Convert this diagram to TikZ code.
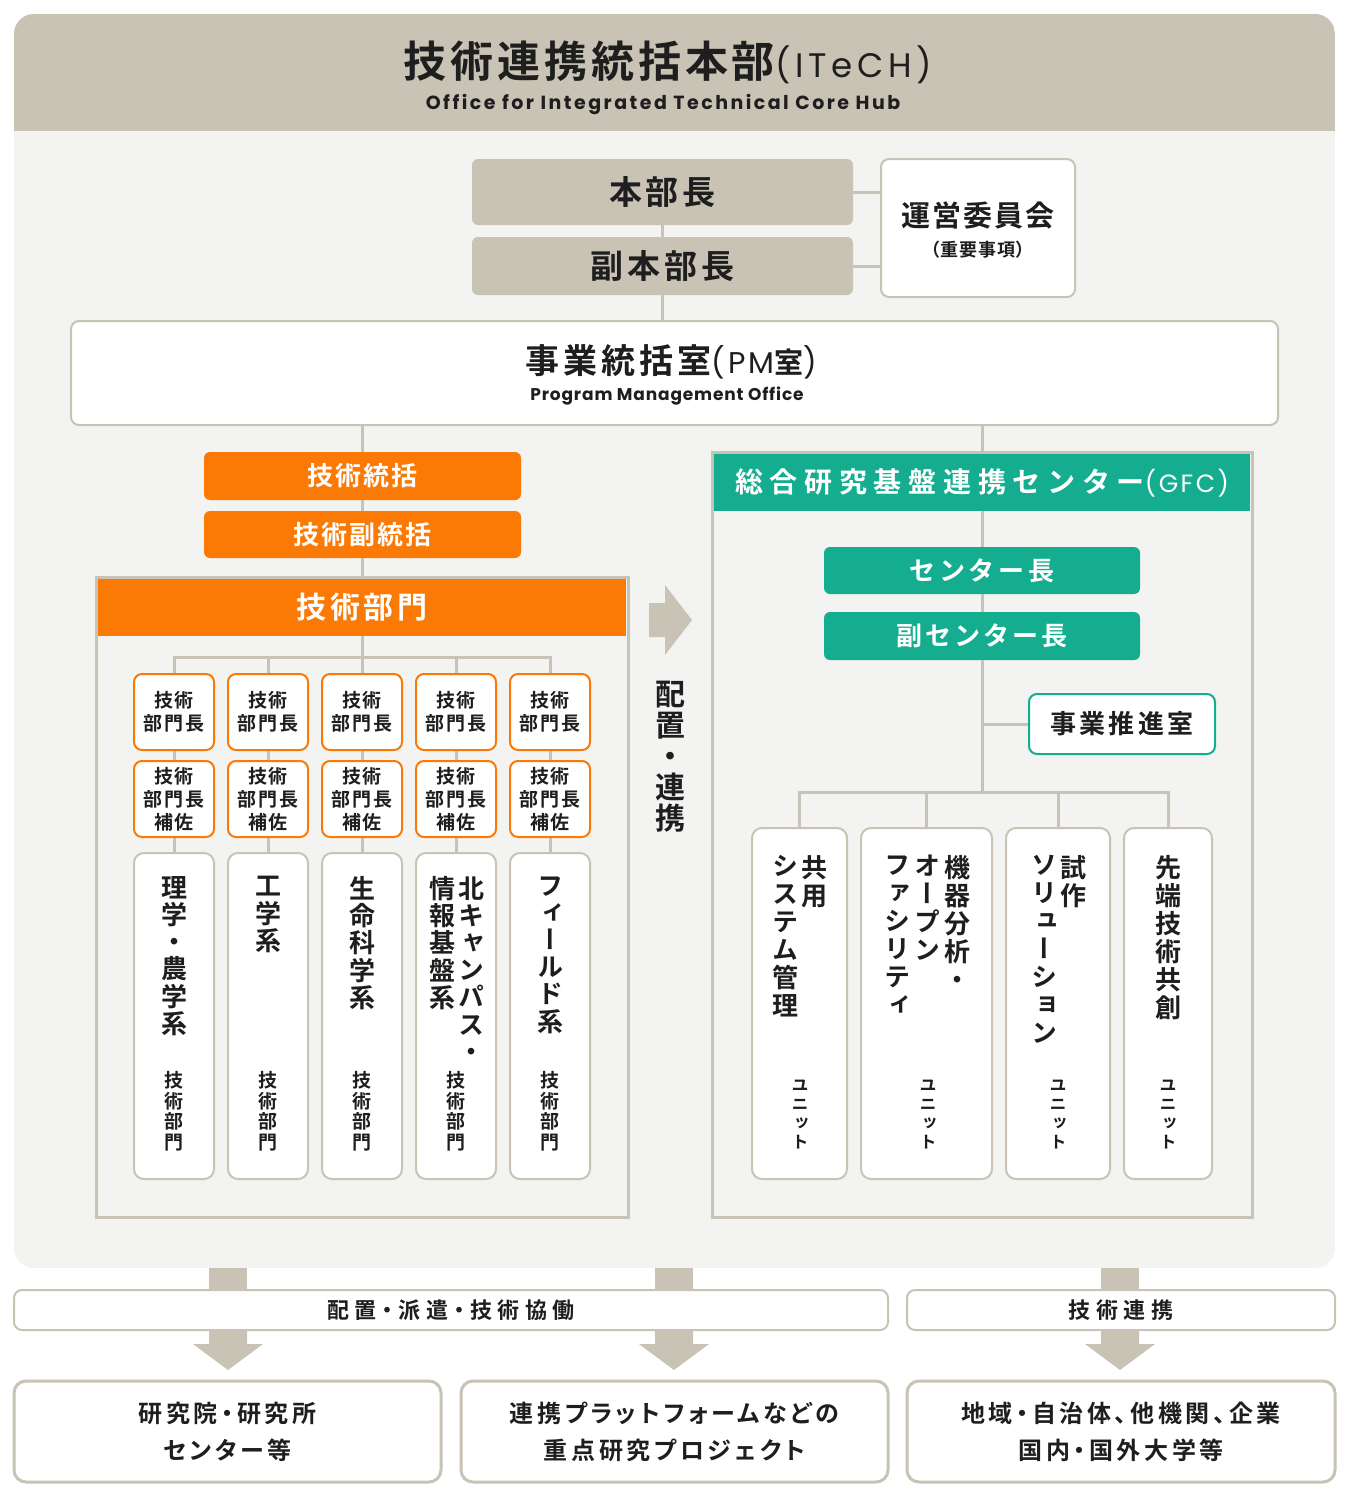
\documentclass[tikz,border=0pt]{standalone}
\usepackage{fontspec}
\setmainfont{Noto Sans CJK JP Bold}
\newfontfamily\jpv{Noto Sans CJK JP Bold}[RawFeature=+vert]
\newfontfamily\pop{Poppins}
\definecolor{paper}{HTML}{F3F3F1}
\definecolor{hqbeige}{HTML}{C8C3B4}
\definecolor{techorange}{HTML}{FA7A05}
\definecolor{gfcteal}{HTML}{15AD8F}
\definecolor{ink}{HTML}{1E1E1E}
\def\ls#1{\addfontfeature{LetterSpace=#1}}
\def\pl{\addfontfeature{RawFeature=+palt}}
\def\blockdown(#1){\fill[hqbeige] (#1-19,1268) rectangle (#1+19,1290);
  \fill[hqbeige] (#1-19,1330) -- (#1+19,1330) -- (#1+19,1344) -- (#1+35,1344) -- (#1,1370) -- (#1-35,1344) -- (#1-19,1344) -- cycle;}

\begin{document}
\begin{tikzpicture}[x=0.5pt,y=-0.5pt,
  px/.style 2 args={minimum width=#1*0.5pt, minimum height=#2*0.5pt},
  link/.style={draw=hqbeige, line width=1.5pt},
  hqbox/.style={fill=hqbeige, rounded corners=3pt, inner sep=0pt, text=ink},
  whitebox/.style={fill=white, draw=hqbeige, line width=1pt, rounded corners=4pt, inner sep=0pt},
  orangebox/.style={fill=techorange, rounded corners=3pt, inner sep=0pt, text=white},
  tealbox/.style={fill=gfcteal, rounded corners=3pt, inner sep=0pt, text=white},
  framebox/.style={draw=hqbeige, line width=1.5pt, inner sep=0pt},
  headbox/.style={fill=white, draw=techorange, line width=1pt, rounded corners=4pt, inner sep=0pt,
    align=center, text=ink, font=\fontsize{9.5}{11.5}\selectfont\ls{8}},
  groupbox/.style={whitebox, rounded corners=5pt},
  vbig/.style={anchor=north, inner sep=0pt, align=center, text=ink, font=\jpv\fontsize{13}{13.6}\selectfont},
  vunit/.style={anchor=north, inner sep=0pt, align=center, text=ink, font=\jpv\fontsize{13}{14}\selectfont},
  vsmall/.style={anchor=north, inner sep=0pt, align=center, text=ink, font=\jpv\fontsize{9.5}{10.25}\selectfont},
  vtiny/.style={anchor=north, inner sep=0pt, align=center, text=ink, font=\jpv\fontsize{8.5}{9.5}\selectfont},
  bandbox/.style={whitebox, text=ink, font=\fontsize{11}{12}\selectfont\pl\ls{25}},
  outbox/.style={fill=white, draw=hqbeige, line width=1.5pt, rounded corners=6pt, inner sep=0pt},
  outtext/.style={align=center, text=ink, inner sep=0pt, font=\fontsize{12}{18.5}\selectfont\pl\ls{15}}]

  %%%%% HEADQUARTERS %%%%%
  \fill[white] (0,0) rectangle (1349,1500);
  \useasboundingbox (0,0) rectangle (1349,1500);
  \begin{scope}
    \clip[rounded corners=10pt] (14,14) rectangle (1335,1268);
    \fill[paper] (14,14) rectangle (1335,1268);
    \fill[hqbeige] (14,14) rectangle (1335,131);
  \end{scope}

  \node[text=ink, inner sep=0pt] (ttl) at (668,62) {{\fontsize{21.5}{22}\selectfont\ls{9}技術連携統括本部}{\pop\fontsize{17}{18}\selectfont\ls{14}(ITeCH)}};
  \node[text=ink, inner sep=0pt] (ttlsub) at (663,104) {\pop\bfseries\fontsize{9.5}{11}\selectfont\ls{13}Office for Integrated Technical Core Hub};

  \node[hqbox, px={381}{66}, font=\fontsize{16.5}{18}\selectfont\ls{12}] (hq) at (662.5,192) {本部長};
  \node[hqbox, px={381}{58}, font=\fontsize{16.5}{18}\selectfont\ls{12}] (vhq) at (662.5,266) {副本部長};
  \node[whitebox, px={194}{138}] (cmt) at (978,228) {};
  \node[text=ink, inner sep=0pt, font=\fontsize{14.5}{16}\selectfont\ls{7}] (cmtname) at (978,215) {運営委員会};
  \node[text=ink, inner sep=0pt, font=\fontsize{9}{10}\selectfont\ls{4}] (cmtnote) at (978,250) {（重要事項）};

  \draw[link] (hq.east) -- (hq.east -| cmt.west);
  \draw[link] (vhq.east) -- (vhq.east -| cmt.west);
  \draw[link] (hq.south) -- (vhq.north);

  \node[whitebox, px={1207}{104}] (pm) at (674.5,373) {};
  \node[text=ink, inner sep=0pt] (pmname) at (671,362) {{\fontsize{17}{18}\selectfont\ls{12}事業統括室}{\pop\fontsize{15}{16}\selectfont\ls{10}(PM}{\fontsize{14.5}{16}\selectfont 室}{\pop\fontsize{15}{16}\selectfont)}};
  \node[text=ink, inner sep=0pt] (pmsub) at (667,396) {\pop\bfseries\fontsize{8.5}{10}\selectfont\ls{5}Program Management Office};
  \draw[link] (vhq.south) -- (vhq.south |- pm.north);

  %%%%% TECHNICAL DIVISION %%%%%
  \node[orangebox, px={317}{48}, font=\fontsize{13}{14}\selectfont\ls{8}] (ts) at (362.5,476) {技術統括};
  \node[orangebox, px={317}{47}, font=\fontsize{13}{14}\selectfont\ls{8}] (tds) at (362.5,534.5) {技術副統括};
  \node[framebox, px={532}{640}] (tdiv) at (362,897) {};
  \node[fill=techorange, inner sep=0pt, px={528}{57}, text=white, font=\fontsize{15}{16}\selectfont\ls{12}] (tdivh) at (362,607.5) {技術部門};

  \draw[link] (ts.north |- pm.south) -- (ts.north);
  \draw[link] (ts.south) -- (tds.north);
  \draw[link] (tds.south) -- (tds.south |- tdiv.north);

  \coordinate (tjoin) at (362,657);
  \foreach \i/\cx in {1/174,2/268,3/362,4/456,5/550} {
    \node[headbox, px={80}{76}] (h\i) at (\cx,712) {技術\\部門長};
    \node[headbox, px={80}{76}] (a\i) at (\cx,799) {技術\\部門長\\補佐};
    \node[groupbox, px={80}{326}] (g\i) at (\cx,1016) {};
    \node[vsmall] (gt\i) at (\cx,1071) {技\\術\\部\\門};
    \draw[link] (h\i.south) -- (a\i.north);
    \draw[link] (a\i.south) -- (g\i.north);
  }
  \draw[link] (tdivh.south) -- (tjoin);
  \draw[link] (h1.north) |- (tjoin) -| (h5.north);
  \foreach \i in {2,3,4}
    \draw[link] (h\i.north) -- (h\i.north |- tjoin);

  \node[vbig] (g1n) at (174,876) {理\\学\\・\\農\\学\\系};
  \node[vbig] (g2n) at (268,876) {工\\学\\系};
  \node[vbig] (g3n) at (362,876) {生\\命\\科\\学\\系};
  \node[vbig] (g4n) at (471,876) {北\\キ\\ャ\\ン\\パ\\ス\\・};
  \node[vbig] (g4m) at (442,876) {情\\報\\基\\盤\\系};
  \node[vbig] (g5n) at (550,876) {フ\\ィ\\ー\\ル\\ド\\系};

  %%%%% ASSIGNMENT ARROW %%%%%
  \fill[hqbeige] (649,603) -- (665,603) -- (665,585) -- (692,620) -- (665,655) -- (665,637) -- (649,637) -- cycle;
  \node[anchor=north, inner sep=0pt, align=center, text=ink, font=\jpv\fontsize{15}{15.5}\selectfont] (assign) at (670,681) {配\\置\\・\\連\\携};

  %%%%% GFC %%%%%
  \node[framebox, px={540}{765}] (gfc) at (982,834.5) {};
  \node[fill=gfcteal, inner sep=0pt, px={536}{57}, text=white] (gfch) at (982,482.5) {{\fontsize{14}{15}\selectfont\ls{24}総合研究基盤連携センター}{\pop\fontsize{12.5}{13}\selectfont\ls{10}(GFC)}};
  \draw[link] (gfc.north |- pm.south) -- (gfc.north);

  \node[tealbox, px={316}{47}, font=\fontsize{13}{14}\selectfont\ls{14}] (ctr) at (982,570.5) {センター長};
  \node[tealbox, px={316}{48}, font=\fontsize{13}{14}\selectfont\ls{12}] (vctr) at (982,636) {副センター長};
  \node[fill=white, draw=gfcteal, line width=1pt, rounded corners=4pt, inner sep=0pt, px={186}{60}, text=ink, font=\fontsize{13}{14}\selectfont\ls{12}] (promo) at (1122,724) {事業推進室};

  \coordinate (ujoin) at (982,792);
  \draw[link] (gfch.south) -- (ctr.north);
  \draw[link] (ctr.south) -- (vctr.north);
  \draw[link] (vctr.south) -- (ujoin);
  \draw[link] (promo.west) -- (promo.west -| vctr.south);

  \node[groupbox, px={95}{351}] (u1) at (799.5,1003.5) {};
  \node[groupbox, px={131}{351}] (u2) at (926.5,1003.5) {};
  \node[groupbox, px={104}{351}] (u3) at (1058,1003.5) {};
  \node[groupbox, px={88}{351}] (u4) at (1168,1003.5) {};
  \draw[link] (u1.north) |- (ujoin) -| (u4.north);
  \foreach \i in {2,3}
    \draw[link] (u\i.north) -- (u\i.north |- ujoin);

  \node[vunit] (u1a) at (814,855) {共\\用};
  \node[vunit] (u1b) at (785,855) {シ\\ス\\テ\\ム\\管\\理};
  \node[vunit] (u2a) at (957,855) {機\\器\\分\\析\\・};
  \node[vunit] (u2b) at (927,855) {オ\\ー\\プ\\ン};
  \node[vunit] (u2c) at (897,855) {フ\\ァ\\シ\\リ\\テ\\ィ};
  \node[vunit] (u3a) at (1073,855) {試\\作};
  \node[vunit] (u3b) at (1044,855) {ソ\\リ\\ュ\\ー\\シ\\ョ\\ン};
  \node[vunit] (u4a) at (1168,855) {先\\端\\技\\術\\共\\創};
  \foreach \i/\cx in {1/800,2/928,3/1058,4/1168}
    \node[vtiny] (ut\i) at (\cx,1080) {ユ\\ニ\\ッ\\ト};

  %%%%% OUTREACH %%%%%
  \foreach \ax in {228,674,1120} {
    \blockdown(\ax)
  }

  \node[bandbox, px={874}{40}] (bnd1) at (451,1310) {配置・派遣・技術協働};
  \node[bandbox, px={428}{40}] (bnd2) at (1121,1310) {技術連携};

  \node[outbox, px={427}{101}] (o1) at (227.5,1431.5) {};
  \node[outbox, px={427}{101}] (o2) at (674.5,1431.5) {};
  \node[outbox, px={428}{101}] (o3) at (1121,1431.5) {};
  \node[outtext] (o1t) at (227.5,1431.5) {研究院・研究所\\センター等};
  \node[outtext] (o2t) at (674.5,1431.5) {連携プラットフォームなどの\\重点研究プロジェクト};
  \node[outtext] (o3t) at (1121,1431.5) {地域・自治体、他機関、企業\\国内・国外大学等};

\end{tikzpicture}
\end{document}
